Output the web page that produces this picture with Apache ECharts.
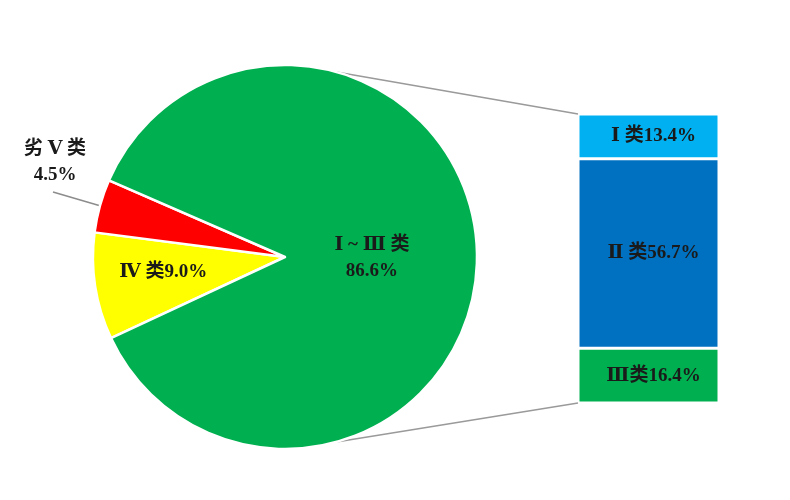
<!DOCTYPE html>
<html>
<head>
<meta charset="utf-8">
<script src="https://cdn.jsdelivr.net/npm/echarts@6/dist/echarts.min.js"></script>
<style>
html,body{margin:0;padding:0;background:#fff;}
#main{width:790px;height:500px;}
</style>
</head>
<body>
<div id="main"></div>
<script>
// ---- data ----
var pieNames = ['Ⅳ 类', '劣 Ⅴ 类', 'Ⅰ ~ Ⅲ 类'];
var pieValues = [9.0, 4.5, 86.6];
var pieColors = ['#FFFF00', '#FF0000', '#00B050'];

var barNames = ['Ⅲ类', 'Ⅱ 类', 'Ⅰ 类'];   // bottom to top
var barValues = [16.4, 56.7, 13.4];
var barColors = ['#00B050', '#0070C0', '#00B0F0'];

// ---- layout ----
var FONT = "'Liberation Serif', 'DejaVu Serif', 'Noto Sans CJK SC', serif";
var FS = 19;
var pieCenter = [285, 257];
var pieRadius = 192;
var gridBox = {left: 578, top: 114, width: 141, height: 289};
var connectorAngle = 74.5; // degrees from horizontal

var chart = echarts.init(document.getElementById('main'));

var barSeries = barNames.map(function (n, i) {
  return {
    type: 'bar',
    name: n,
    stack: 'total',
    barWidth: '100%',
    data: [barValues[i]],
    itemStyle: {color: barColors[i], borderColor: '#fff', borderWidth: 1.5},
    label: {
      show: true, position: 'inside', offset: [5, 0],
      formatter: n + barValues[i].toFixed(1) + '%',
      color: '#1a1a1a', fontFamily: FONT, fontWeight: 'bold', fontSize: FS
    },
    silent: true
  };
});

var barTotal = barValues.reduce(function (a, b) { return a + b; }, 0);

var rad = connectorAngle * Math.PI / 180;
var pTop = [pieCenter[0] + pieRadius * Math.cos(rad), pieCenter[1] - pieRadius * Math.sin(rad)];
var pBot = [pieCenter[0] + pieRadius * Math.cos(rad), pieCenter[1] + pieRadius * Math.sin(rad)];

chart.setOption({
  backgroundColor: '#fff',
  animation: false,
  grid: {left: gridBox.left, top: gridBox.top, width: gridBox.width, height: gridBox.height, containLabel: false},
  xAxis: {type: 'category', data: [''], show: false},
  yAxis: {type: 'value', min: 0, max: barTotal, show: false},
  graphic: [
    {type: 'line', shape: {x1: pTop[0], y1: pTop[1], x2: gridBox.left, y2: gridBox.top},
     style: {stroke: '#9a9a9a', lineWidth: 1.5}, z: 1},
    {type: 'line', shape: {x1: pBot[0], y1: pBot[1], x2: gridBox.left, y2: gridBox.top + gridBox.height},
     style: {stroke: '#9a9a9a', lineWidth: 1.5}, z: 1}
  ],
  series: [{
    type: 'pie',
    center: pieCenter,
    radius: pieRadius,
    startAngle: 205,
    clockwise: true,
    silent: true,
    itemStyle: {borderColor: '#fff', borderWidth: 2.5},
    labelLine: {lineStyle: {color: '#8c8c8c', width: 1.5}},
    data: pieNames.map(function (n, i) {
      var d = {name: n, value: pieValues[i], itemStyle: {color: pieColors[i]}};
      var base = {color: '#1a1a1a', fontFamily: FONT, fontWeight: 'bold', fontSize: FS, lineHeight: 26, overflow: 'none'};
      if (i === 0) {
        d.label = Object.assign({show: true, position: 'inside', formatter: n + pieValues[i].toFixed(1) + '%', offset: [-24, 0]}, base);
        d.labelLine = {show: false};
      } else if (i === 1) {
        d.label = Object.assign({show: true, position: 'outside', formatter: n + '\n' + pieValues[i].toFixed(1) + '%', align: 'center', width: 90}, base);
        d.labelLine = {show: true, length: 48, length2: 0, smooth: false};
      } else {
        d.label = Object.assign({show: true, position: 'inside', formatter: n + '\n' + pieValues[i].toFixed(1) + '%', offset: [-12, 2]}, base);
        d.labelLine = {show: false};
      }
      return d;
    }),
    labelLayout: function (params) {
      if (params.dataIndex === 1) {
        var p0 = params.labelLinePoints ? params.labelLinePoints[0] : [100, 205];
        return {x: 55, y: 162, align: 'center', verticalAlign: 'middle',
                labelLinePoints: [p0, [53, 192]]};
      }
    }
  }].concat(barSeries)
});
</script>
</body>
</html>
